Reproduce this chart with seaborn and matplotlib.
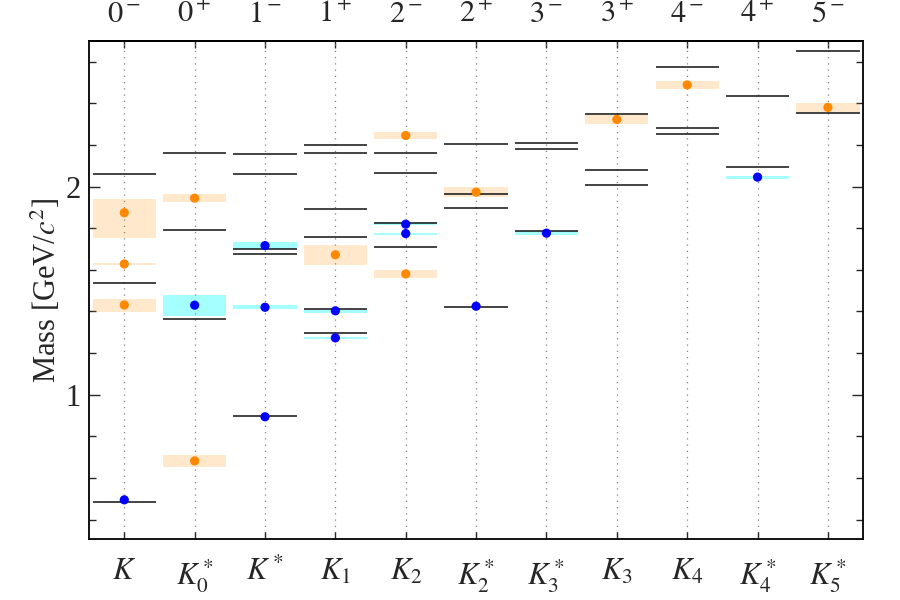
import matplotlib
matplotlib.use("Agg")
import matplotlib.pyplot as plt
from matplotlib.ticker import MultipleLocator
import seaborn as sns
import pandas as pd

# Kaon states, J^P labels on top
categories = ["K", "K0*", "K*", "K1", "K2", "K2*", "K3*", "K3", "K4", "K4*", "K5*"]
cat_labels = [r"$K$", r"$K_0^*$", r"$K^*$", r"$K_1$", r"$K_2$", r"$K_2^*$",
              r"$K_3^*$", r"$K_3$", r"$K_4$", r"$K_4^*$", r"$K_5^*$"]
jp_labels = [r"$0^-$", r"$0^+$", r"$1^-$", r"$1^+$", r"$2^-$", r"$2^+$",
             r"$3^-$", r"$3^+$", r"$4^-$", r"$4^+$", r"$5^-$"]

# model predictions (black lines)
theory_state = ["K", "K", "K",
                "K0*", "K0*", "K0*",
                "K*", "K*", "K*", "K*", "K*",
                "K1", "K1", "K1", "K1", "K1", "K1",
                "K2", "K2", "K2", "K2",
                "K2*", "K2*", "K2*", "K2*",
                "K3*", "K3*", "K3*",
                "K3", "K3", "K3",
                "K4", "K4", "K4",
                "K4*", "K4*",
                "K5*", "K5*"]
theory_mass = [0.484, 1.538, 2.062,
               1.362, 1.790, 2.159,
               0.898, 1.675, 1.699, 2.061, 2.154,
               1.295, 1.410, 1.757, 1.891, 2.162, 2.197,
               1.709, 1.824, 2.064, 2.160,
               1.423, 1.896, 1.963, 2.204,
               1.788, 2.181, 2.207,
               2.008, 2.079, 2.346,
               2.253, 2.282, 2.572,
               2.095, 2.433,
               2.354, 2.652]

# measured states: mass, lower / upper edge of the band, status
exp_state = ["K", "K", "K", "K",
             "K0*", "K0*", "K0*",
             "K*", "K*", "K*",
             "K1", "K1", "K1",
             "K2", "K2", "K2", "K2",
             "K2*", "K2*",
             "K3*", "K3", "K4", "K4*", "K5*"]
exp_mass = [0.495, 1.431, 1.628, 1.874,
            0.682, 1.430, 1.944,
            0.894, 1.420, 1.716,
            1.273, 1.403, 1.672,
            1.580, 1.774, 1.819, 2.245,
            1.425, 1.973,
            1.776, 2.322, 2.488, 2.045, 2.380]
exp_lo = [0.495, 1.399, 1.621, 1.753,
          0.654, 1.380, 1.924,
          0.894, 1.410, 1.700,
          1.266, 1.394, 1.623,
          1.560, 1.766, 1.814, 2.228,
          1.425, 1.949,
          1.769, 2.298, 2.468, 2.036, 2.356]
exp_hi = [0.495, 1.459, 1.635, 1.941,
          0.712, 1.479, 1.965,
          0.894, 1.429, 1.734,
          1.279, 1.407, 1.720,
          1.600, 1.779, 1.829, 2.263,
          1.425, 1.998,
          1.786, 2.343, 2.508, 2.051, 2.402]
exp_status = ["est", "unc", "unc", "unc",
              "unc", "est", "unc",
              "est", "est", "est",
              "est", "est", "unc",
              "unc", "est", "est", "unc",
              "est", "unc",
              "est", "unc", "unc", "est", "unc"]

sns.set_theme(style="ticks")
plt.rcParams["font.family"] = ["Liberation Serif", "DejaVu Serif"]
plt.rcParams["mathtext.fontset"] = "stix"

theory = pd.DataFrame({"state": theory_state, "mass": theory_mass})
theory["pos"] = theory["state"].map(categories.index)
exp = pd.DataFrame({"state": exp_state, "mass": exp_mass, "lo": exp_lo,
                    "hi": exp_hi, "status": exp_status})
exp["pos"] = exp["state"].map(categories.index)

band_col = {"est": (0.0, 1.0, 1.0, 0.35), "unc": (1.0, 0.55, 0.0, 0.2)}
dot_col = {"est": "#0000ff", "unc": "#ff8800"}

fig = plt.figure(figsize=(9, 6), dpi=100)
ax = fig.add_axes([0.099, 0.101, 0.860, 0.830])

# uncertainty bands
ax.bar(exp["pos"], exp["hi"] - exp["lo"], bottom=exp["lo"], width=0.9,
       color=[band_col[s] for s in exp["status"]], linewidth=0, zorder=1)

# model lines
ax.hlines(theory["mass"], theory["pos"] - 0.45, theory["pos"] + 0.45,
          color="#111111", linewidth=1.1, zorder=2)

sns.scatterplot(data=exp, x="pos", y="mass", hue="status", palette=dot_col,
                s=44, linewidth=0, legend=False, zorder=3, ax=ax)

ax.set_xlim(-0.5, len(categories) - 0.5)
ax.set_ylim(0.305, 2.697)
ax.set_xticks(range(len(categories)))
ax.set_xticklabels(cat_labels)
ax.yaxis.set_major_locator(MultipleLocator(1))
ax.yaxis.set_minor_locator(MultipleLocator(0.2))
ax.set_xlabel("")
ax.set_ylabel("Mass [GeV/$c^2$]", fontsize=22, labelpad=2)
ax.grid(axis="x", linestyle=(0, (1, 4)), color="gray", linewidth=0.9)

ax.tick_params(which="both", direction="in", top=False, right=True,
               labelsize=22, width=1.0)
ax.tick_params(axis="x", pad=13, length=5)
ax.tick_params(axis="y", which="major", length=8, pad=6)
ax.tick_params(axis="y", which="minor", length=5)

top = ax.secondary_xaxis("top")
top.set_xticks(range(len(categories)))
top.set_xticklabels(jp_labels)
top.tick_params(direction="in", length=5, pad=9, labelsize=22, width=1.0)

for sp in list(ax.spines.values()) + list(top.spines.values()):
    sp.set_linewidth(1.3)
    sp.set_color("black")

fig.savefig("out.png", dpi=100)
